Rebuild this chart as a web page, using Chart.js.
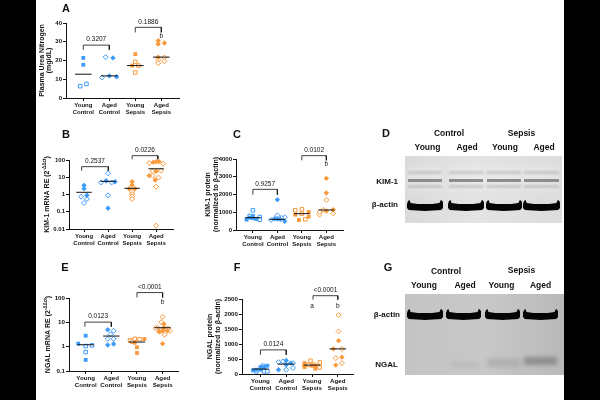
<!DOCTYPE html>
<html>
<head>
<meta charset="utf-8">
<script src="https://cdn.jsdelivr.net/npm/chart.js@4/dist/chart.umd.min.js"></script>
<style>
  html, body { margin: 0; padding: 0; background: #fff; }
  #page { position: relative; width: 600px; height: 400px; overflow: hidden; font-family: "Liberation Sans", Arial, sans-serif; color: #111; }
  .side { position: absolute; top: 0; bottom: 0; background: #000; }
  canvas { position: absolute; filter: blur(0.3px); }
  .t { position: absolute; transform: translate(-50%, -50%); font-weight: bold; white-space: nowrap; filter: blur(0.2px); }
  .r { transform: translate(-100%, -50%); }
  .gel { position: absolute; filter: blur(0.4px); }
  .band { position: absolute; }
</style>
</head>
<body>
<div id="page">
  <div class="side" style="left:0;width:36px"></div>
  <div class="side" style="left:564px;width:36px"></div>
</div>
<script>
const groupLabels = [['Young', 'Control'], ['Aged', 'Control'], ['Young', 'Sepsis'], ['Aged', 'Sepsis']];

// A - plasma urea nitrogen
const aYoungCtrlFilled = [21.4, 17.7];
const aYoungCtrlOpen = [6.3, 7.5];
const aAgedCtrlFilled = [21.4, 11.8, 11.3];
const aAgedCtrlOpen = [21.8, 10.9];
const aYoungSepFilled = [23.4, 17.3];
const aYoungSepOpen = [19.3, 13.6, 17.3];
const aAgedSepFilled = [30.5, 28.8, 29.3, 21.8];
const aAgedSepOpen = [20.4, 18.6, 21.6, 19.6];
const aMedians = [12.7, 11.8, 17.3, 21.8];
const aPValues = ['0.3207', '0.1886'];

// B - KIM-1 mRNA
const bYoungCtrlFilled = [3.4, 2.18, 0.9];
const bYoungCtrlOpen = [0.75, 0.55, 0.32];
const bAgedCtrlFilled = [6.3, 5.5, 0.158];
const bAgedCtrlOpen = [16.9, 5, 5, 0.9];
const bYoungSepFilled = [5.5, 3.55, 2.18, 2.18];
const bYoungSepOpen = [1.46, 1.07, 0.78, 0.55];
const bAgedSepFilled = [73, 80, 80, 12.4, 6.9, 22];
const bAgedSepOpen = [67, 61, 2.84, 0.0156, 22, 24, 9.5, 12.4];
const bMedians = [1.34, 5.8, 2.28, 31];
const bPValues = ['0.2537', '0.0226'];

// C - KIM-1 protein
const cYoungCtrlFilled = [582, 789, 695, 620, 670];
const cYoungCtrlOpen = [1108, 732, 582, 789];
const cAgedCtrlFilled = [1709, 620, 600, 488, 640];
const cAgedCtrlOpen = [826, 563, 713, 680];
const cYoungSepFilled = [864, 563, 1014, 751];
const cYoungSepOpen = [1108, 1164, 920, 600];
const cAgedSepFilled = [2911, 2085, 1145, 1070];
const cAgedSepOpen = [1690, 864, 1014, 939, 1127];
const cMedians = [695, 600, 920, 1127];
const cPValues = ['0.9257', '0.0102'];

// E - NGAL mRNA
const eYoungCtrlFilled = [1.33, 2.82, 0.285];
const eYoungCtrlOpen = [1.06, 1.13, 0.6];
const eAgedCtrlFilled = [4.96, 1.17, 1.29];
const eAgedCtrlOpen = [4.5, 3.2, 2.1, 2.1];
const eYoungSepFilled = [2.06, 0.94, 0.55, 1.46];
const eYoungSepOpen = [1.8, 2.1, 2.0, 1.6];
const eAgedSepFilled = [8.5, 1.33, 4.1, 6, 4.5, 4.5];
const eAgedSepOpen = [16.9, 10.2, 6, 5.63, 4.5, 3.1, 5.8, 4.5];
const eMedians = [1.2, 2.73, 1.55, 6];
const ePValues = ['0.0123', '<0.0001'];

// F - NGAL protein
const fYoungCtrlFilled = [121, 143, 143, 231, 275, 231];
const fYoungCtrlOpen = [275, 88, 88, 88];
const fAgedCtrlFilled = [143, 451, 308, 363];
const fAgedCtrlOpen = [396, 418, 198, 363, 143];
const fYoungSepFilled = [363, 231, 275, 275, 176];
const fYoungSepOpen = [286, 440, 385, 220, 308, 308];
const fAgedSepFilled = [1112, 837, 562, 297];
const fAgedSepOpen = [1960, 1420, 837, 529, 363];
const fMedians = [165, 330, 297, 837];
const fPValues = ['0.0124', '<0.0001'];

const BLUE = '#3d9bfa';
const ORANGE = '#f8993a';
const INK = '#111';
const FONT = '"Liberation Sans", Arial, sans-serif';

// per group: [filled values, sideways offsets, open values, sideways offsets]
const panels = [
  {
    box: [66, 23, 179, 98], xRange: [-0.665, 3.68], yMin: 0, yMax: 40, step: 10, tickFont: 6,
    title: ['Plasma Urea Nitrogen', '(mg/dL)'], titleX: [-24, -17],
    medians: aMedians, pValues: aPValues,
    brackets: [[0, 1, 28.2, 25.7], [2, 3, 37.7, 35]],
    notes: [[3, 33.2, 'b']],
    groups: [
      [aYoungCtrlFilled, [0, 0], aYoungCtrlOpen, [-.12, .12]],
      [aAgedCtrlFilled, [.14, 0, .28], aAgedCtrlOpen, [-.14, -.28]],
      [aYoungSepFilled, [0, -.12], aYoungSepOpen, [0, 0, .12]],
      [aAgedSepFilled, [-.12, -.12, .12, -.12], aAgedSepOpen, [-.12, -.12, .12, .12]]
    ]
  },
  {
    box: [69, 160, 173, 229], xRange: [-0.625, 3.7], log: true, yMin: 0.01, yMax: 100, tickFont: 6,
    title: ['KIM-1 mRNA RE (2', '-ΔΔct', ')'], sup: true, titleX: [-22],
    medians: bMedians, pValues: bPValues,
    brackets: [[-0.1, 1.01, 41, 24], [2, 3.07, 178, 110]],
    notes: [],
    allDiamonds: true,
    groups: [
      [bYoungCtrlFilled, [0, 0, .12], bYoungCtrlOpen, [-.12, .12, 0]],
      [bAgedCtrlFilled, [-.08, .29, 0], bAgedCtrlOpen, [0, -.29, .15, 0]],
      [bYoungSepFilled, [0, 0, -.12, .12], bYoungSepOpen, [0, 0, 0, 0]],
      [bAgedSepFilled, [-.12, 0, .12, -.29, -.04, 0], bAgedSepOpen, [-.29, .29, 0, 0, -.15, .2, .1, -.15]]
    ]
  },
  {
    box: [236, 159, 343, 230], xRange: [-0.69, 3.68], yMin: 0, yMax: 4000, step: 1000, tickFont: 6,
    title: ['KIM-1 protein', '(normalized to β-actin)'], titleX: [-28, -20],
    medians: cMedians, pValues: cPValues,
    brackets: [[0, 1, 2291, 1990], [2, 3, 4188, 3925]],
    notes: [[3, 3680, 'b']],
    groups: [
      [cYoungCtrlFilled, [-.26, 0, -.13, .13, 0], cYoungCtrlOpen, [0, .28, .28, -.13]],
      [cAgedCtrlFilled, [0, 0, .12, .3, -.12], cAgedCtrlOpen, [0, -.26, .3, .16]],
      [cYoungSepFilled, [-.27, -.12, .28, .28], cYoungSepOpen, [-.27, 0, 0, .14]],
      [cAgedSepFilled, [0, 0, .28, 0], cAgedSepOpen, [0, -.28, -.28, .28, -.13]]
    ]
  },
  {
    box: [69, 298, 178, 371], xRange: [-0.65, 3.6], log: true, yMin: 0.1, yMax: 100, tickFont: 6.2,
    title: ['NGAL mRNA RE (2', '-ΔΔct', ')'], sup: true, titleX: [-21],
    medians: eMedians, pValues: ePValues,
    brackets: [[-0.03, 1, 10.2, 6.6], [2, 3, 167, 105]],
    notes: [[3, 65, 'b']],
    groups: [
      [eYoungCtrlFilled, [-.29, 0, 0], eYoungCtrlOpen, [0, .25, 0]],
      [eAgedCtrlFilled, [-.14, -.14, .09], eAgedCtrlOpen, [.09, -.03, -.14, .09]],
      [eYoungSepFilled, [.29, 0, 0, -.09], eYoungSepOpen, [-.27, -.09, .1, -.18]],
      [eAgedSepFilled, [.05, 0, -.14, .05, .18, 0], eAgedSepOpen, [0, -.05, -.2, .2, .28, .07, -.27, -.08]]
    ]
  },
  {
    box: [242, 299, 353, 374], xRange: [-0.716, 3.59], yMin: 0, yMax: 2500, step: 500, tickFont: 6.2,
    title: ['NGAL protein', '(normalized to β-actin)'], titleX: [-32, -24],
    medians: fMedians, pValues: fPValues,
    brackets: [[0, 1, 804, 639], [2.04, 3, 2610, 2478]],
    notes: [[2, 2258, 'a'], [3, 2258, 'b']],
    groups: [
      [fYoungCtrlFilled, [-.29, -.16, 0, .14, .27, 0], fYoungCtrlOpen, [.1, -.16, .14, .27]],
      [fAgedCtrlFilled, [-.3, 0, 0, .17], fAgedCtrlOpen, [-.3, -.13, .26, .26, 0]],
      [fYoungSepFilled, [-.29, -.29, 0, .13, .13], fYoungSepOpen, [-.29, -.06, .3, .3, .07, -.13]],
      [fAgedSepFilled, [.03, -.17, .16, -.08], fAgedSepOpen, [.03, .03, .16, -.08, .16]]
    ]
  }
];

// y axis titles, p values and small letters
const panelText = {
  id: 'panelText',
  afterDraw(chart, args, opts) {
    const { ctx, chartArea, scales } = chart;
    const p = opts.panel;
    ctx.save();
    ctx.fillStyle = INK;
    ctx.textAlign = 'center';
    ctx.textBaseline = 'middle';
    ctx.font = `normal 6.5px ${FONT}`;
    p.brackets.forEach((b, i) => {
      const x = scales.x.getPixelForValue((b[0] + b[1]) / 2);
      ctx.fillText(p.pValues[i], x, scales.y.getPixelForValue(b[2]) - 5.5);
    });
    p.notes.forEach(n => ctx.fillText(n[2], scales.x.getPixelForValue(n[0]), scales.y.getPixelForValue(n[1])));

    const midY = (chartArea.top + chartArea.bottom) / 2;
    ctx.font = `bold 7px ${FONT}`;
    if (p.sup) {
      ctx.translate(chartArea.left + p.titleX[0], midY);
      ctx.rotate(-Math.PI / 2);
      const small = `bold 4.5px ${FONT}`;
      const w0 = ctx.measureText(p.title[0]).width;
      const w2 = ctx.measureText(p.title[2]).width;
      ctx.font = small;
      const w1 = ctx.measureText(p.title[1]).width;
      let x = -(w0 + w1 + w2) / 2;
      ctx.textAlign = 'left';
      ctx.font = `bold 7px ${FONT}`;
      ctx.fillText(p.title[0], x, 0);
      ctx.font = small;
      ctx.fillText(p.title[1], x + w0, -2);
      ctx.font = `bold 7px ${FONT}`;
      ctx.fillText(p.title[2], x + w0 + w1, 0);
    } else {
      p.title.forEach((line, i) => {
        ctx.save();
        ctx.translate(chartArea.left + p.titleX[i], midY);
        ctx.rotate(-Math.PI / 2);
        ctx.fillText(line, 0, 0);
        ctx.restore();
      });
    }
    ctx.restore();
  }
};

function pointSet(cat, values, offsets, color, open, shape) {
  return {
    type: 'scatter',
    data: values.map((v, i) => ({ x: cat + offsets[i], y: v })),
    pointStyle: shape,
    pointRadius: open ? 2.5 : 2.7,
    pointBorderWidth: open ? 1 : 0,
    pointBorderColor: color,
    pointBackgroundColor: open ? '#fff' : color,
    showLine: false,
    clip: false
  };
}

function lineSet(points, width) {
  return {
    type: 'scatter',
    data: points,
    order: -1,
    showLine: true,
    pointRadius: 0,
    borderColor: INK,
    borderWidth: width,
    tension: 0,
    clip: false
  };
}

function drawPanel(p) {
  const [left, top, right, bottom] = p.box;
  const gutter = 40, over = 26, under = 24;
  const canvas = document.createElement('canvas');
  canvas.width = right - left + gutter + 12;
  canvas.height = bottom - top + over + under;
  canvas.style.left = (left - gutter) + 'px';
  canvas.style.top = (top - over) + 'px';
  document.getElementById('page').appendChild(canvas);

  const datasets = [];
  p.groups.forEach((g, cat) => {
    const color = cat < 2 ? BLUE : ORANGE;
    const shape = (cat % 2 === 0 && !p.allDiamonds) ? 'rect' : 'rectRot';
    datasets.push(pointSet(cat, g[0], g[1], color, false, shape));
    datasets.push(pointSet(cat, g[2], g[3], color, true, shape));
  });
  p.medians.forEach((m, cat) => {
    datasets.push(lineSet([{ x: cat - 0.32, y: m }, { x: cat + 0.32, y: m }], 1));
  });
  p.brackets.forEach(b => {
    datasets.push(lineSet([{ x: b[0], y: b[3] }, { x: b[0], y: b[2] }, { x: b[1], y: b[2] }, { x: b[1], y: b[3] }], 0.8));
  });

  const tickFont = { family: FONT, size: p.tickFont, weight: 'bold', lineHeight: 1.05 };
  new Chart(canvas, {
    data: { datasets },
    plugins: [panelText],
    options: {
      responsive: false,
      animation: false,
      layout: { padding: { top: over, right: 12, left: 0, bottom: 0 } },
      plugins: { legend: { display: false }, tooltip: { enabled: false }, panelText: { panel: p } },
      scales: {
        x: {
          type: 'linear',
          min: p.xRange[0],
          max: p.xRange[1],
          afterBuildTicks: s => { s.ticks = [0, 1, 2, 3].map(v => ({ value: v })); },
          afterFit: s => { s.height = under; },
          grid: { drawOnChartArea: false, tickLength: 3, color: INK, lineWidth: 1 },
          border: { color: INK, width: 1 },
          ticks: {
            font: tickFont, color: INK, padding: 1.5, maxRotation: 0, autoSkip: false,
            callback: v => groupLabels[v]
          }
        },
        y: {
          type: p.log ? 'logarithmic' : 'linear',
          min: p.yMin,
          max: p.yMax,
          afterBuildTicks: p.log ? s => {
            const decades = [];
            for (let v = p.yMin; v <= p.yMax * 1.001; v *= 10) decades.push({ value: +v.toPrecision(1) });
            s.ticks = decades;
          } : undefined,
          afterFit: s => { s.width = gutter; },
          grid: { drawOnChartArea: false, tickLength: 3, color: INK, lineWidth: 1 },
          border: { color: INK, width: 1 },
          ticks: {
            font: tickFont, color: INK, padding: 1, stepSize: p.step,
            callback: v => String(v)
          }
        }
      }
    }
  });
}

panels.forEach(drawPanel);

// panel letters and blot labels
function addText(str, x, y, size, extra) {
  const d = document.createElement('div');
  d.className = 't' + (extra || '');
  d.textContent = str;
  d.style.left = x + 'px';
  d.style.top = y + 'px';
  d.style.fontSize = size + 'px';
  document.getElementById('page').appendChild(d);
}
[['A', 66, 8], ['B', 66, 134], ['C', 237, 134], ['D', 386, 133], ['E', 65, 267], ['F', 237, 267], ['G', 388, 267]]
  .forEach(l => addText(l[0], l[1], l[2], 11));

[['Control', 449, 132.5], ['Sepsis', 521.5, 132.5], ['Young', 427.5, 146.5], ['Aged', 467, 147], ['Young', 505, 147], ['Aged', 544, 147],
 ['Control', 446, 270.5], ['Sepsis', 521.5, 270], ['Young', 424, 285], ['Aged', 465, 285], ['Young', 501.5, 285], ['Aged', 540.5, 285]]
  .forEach(l => addText(l[0], l[1], l[2], 8.5));
addText('KIM-1', 398, 180.5, 8, ' r');
addText('β-actin', 398, 204, 8, ' r');
addText('β-actin', 400, 314, 8, ' r');
addText('NGAL', 398, 364, 8, ' r');

// blot images
function addGel(x, y, w, h, background) {
  const g = document.createElement('div');
  g.className = 'gel';
  g.style.cssText = `left:${x}px;top:${y}px;width:${w}px;height:${h}px;background:${background}`;
  document.getElementById('page').appendChild(g);
  return g;
}
function addBand(gel, x, y, w, h, color, css) {
  const b = document.createElement('div');
  b.className = 'band';
  b.style.cssText = `left:${x}px;top:${y}px;width:${w}px;height:${h}px;background:${color};${css}`;
  gel.appendChild(b);
}
// curled-up ends as on an overloaded actin band
const SMILE = 'clip-path:polygon(0 35%,3% 10%,7% 0,10% 28%,30% 36%,70% 36%,90% 28%,94% 0,97% 5%,100% 20%,100% 72%,95% 92%,50% 100%,5% 92%,0 72%)';

const gelD = addGel(405, 156, 157, 67, 'linear-gradient(90deg,#dadada,#e4e4e4 45%,#dcdcdc)');
[[2, 36], [43, 36], [81, 36], [118, 37]].forEach(l => {
  addBand(gelD, l[0], 10, l[1], 26, 'rgba(255,255,255,.22)', 'filter:blur(2px)');
  addBand(gelD, l[0] + 1, 15, l[1] - 2, 2.5, 'rgba(170,170,170,.5)', 'filter:blur(0.8px)');
  addBand(gelD, l[0] + 1, 23, l[1] - 2, 2.5, 'rgba(110,110,110,.75)', 'filter:blur(0.7px)');
  addBand(gelD, l[0] + 1, 29, l[1] - 2, 2.5, 'rgba(165,165,165,.5)', 'filter:blur(0.8px)');
  addBand(gelD, l[0], 44, l[1], 11, '#050505', SMILE);
});

const gelG = addGel(405, 294, 159, 81, 'linear-gradient(90deg,#c4c4c4,#c8c8c8 50%,#b9b9b9)');
[[2, 36], [41, 35], [80, 35], [118, 35]].forEach(l => {
  addBand(gelG, l[0], 15, l[1], 11, '#050505', SMILE);
});
addBand(gelG, 46, 68, 28, 5, 'rgba(175,175,175,.55)', 'filter:blur(2px)');
addBand(gelG, 82, 65, 33, 8, 'rgba(160,160,160,.6)', 'filter:blur(2.5px)');
addBand(gelG, 119, 63, 33, 8, 'rgba(130,130,130,.8)', 'filter:blur(2px)');
</script>
</body>
</html>
